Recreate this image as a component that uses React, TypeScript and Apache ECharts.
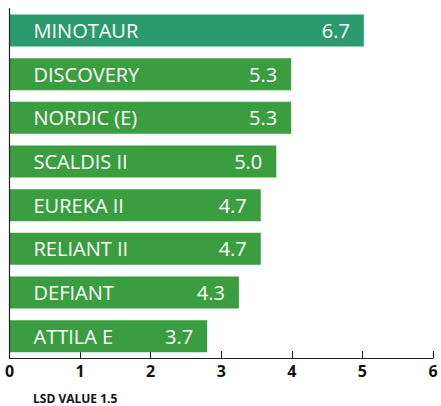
import React, { useEffect, useRef } from "react";
import * as echarts from "echarts";

const varieties = ["MINOTAUR", "DISCOVERY", "NORDIC (E)", "SCALDIS II", "EUREKA II", "RELIANT II", "DEFIANT", "ATTILA E"];
// bar lengths as read against the printed axis
const barLengths = [5.02, 3.99, 3.99, 3.78, 3.56, 3.56, 3.25, 2.8];
// printed scores inside the bars
const scores = ["6.7", "5.3", "5.3", "5.0", "4.7", "4.7", "4.3", "3.7"];
const barColors = ["#2a9b6e", "#3a9e40", "#3a9e40", "#3a9e40", "#3a9e40", "#3a9e40", "#3a9e40", "#3a9e40"];
const footnote = "LSD VALUE 1.5";

export default function App() {
  const ref = useRef<HTMLDivElement>(null);
  useEffect(() => {
    if (!ref.current) return;
    const chart = echarts.init(ref.current, null, { renderer: "svg" });
    const font = "'Open Sans', sans-serif";
    chart.setOption({
      animation: false,
      backgroundColor: "#ffffff",
      grid: { left: 9.5, right: 8, top: 8.7, bottom: 48, containLabel: false },
      xAxis: {
        type: "value",
        min: 0,
        max: 6,
        interval: 1,
        splitLine: { show: false },
        axisLine: { show: true, lineStyle: { color: "#222", width: 1.2 } },
        axisTick: { show: true, inside: true, length: 7, lineStyle: { color: "#222" } },
        axisLabel: { color: "#111", fontSize: 16, fontWeight: "bold", fontFamily: font, margin: 5 },
      },
      yAxis: {
        type: "category",
        inverse: true,
        data: varieties,
        z: 10,
        axisLine: { show: true, lineStyle: { color: "#222", width: 1.2 } },
        axisTick: { show: false },
        axisLabel: {
          inside: true,
          margin: 24,
          color: "#ffffff",
          fontSize: 20,
          fontFamily: font,
        },
      },
      series: [
        {
          type: "bar",
          barWidth: 32,
          data: barLengths.map((v, i) => ({ value: v, itemStyle: { color: barColors[i] } })),
          label: {
            show: true,
            position: "insideRight",
            distance: 14,
            color: "#ffffff",
            fontSize: 20,
            fontFamily: font,
            formatter: (p: any) => scores[p.dataIndex],
          },
        },
      ],
      graphic: [
        {
          type: "text",
          left: 33,
          top: 392,
          style: { text: footnote, fill: "#111", font: "bold 12px 'Liberation Sans Narrow', 'Open Sans', sans-serif" },
        },
      ],
    });
    return () => chart.dispose();
  }, []);
  return <div ref={ref} style={{ position: "fixed", left: 0, top: 0, width: 441, height: 406 }} />;
}
